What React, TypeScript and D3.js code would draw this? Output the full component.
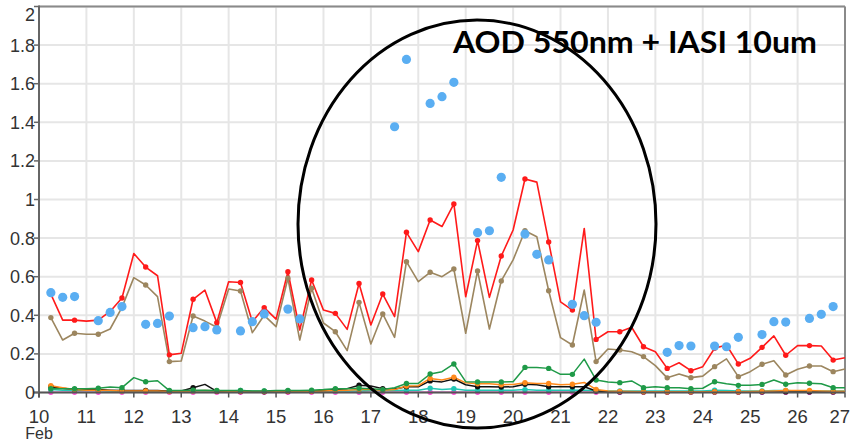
import React from "react";
import * as d3 from "d3";

const W = 851;
const H = 444;

const times = [
  10.25, 10.5, 10.75, 11.0, 11.25, 11.5, 11.75, 12.0, 12.25, 12.5, 12.75, 13.0,
  13.25, 13.5, 13.75, 14.0, 14.25, 14.5, 14.75, 15.0, 15.25, 15.5, 15.75, 16.0,
  16.25, 16.5, 16.75, 17.0, 17.25, 17.5, 17.75, 18.0, 18.25, 18.5, 18.75, 19.0,
  19.25, 19.5, 19.75, 20.0, 20.25, 20.5, 20.75, 21.0, 21.25, 21.5, 21.75, 22.0,
  22.25, 22.5, 22.75, 23.0, 23.25, 23.5, 23.75, 24.0, 24.25, 24.5, 24.75, 25.0,
  25.25, 25.5, 25.75, 26.0, 26.25, 26.5, 26.75, 27.0,
];

const totalAod = [
  0.51, 0.375, 0.375, 0.37, 0.375, 0.42, 0.49, 0.72, 0.65, 0.605, 0.195, 0.203,
  0.483, 0.53, 0.362, 0.574, 0.57, 0.367, 0.44, 0.38, 0.626, 0.324, 0.583, 0.427,
  0.41, 0.327, 0.565, 0.35, 0.51, 0.393, 0.83, 0.73, 0.894, 0.86, 0.977, 0.496,
  0.787, 0.493, 0.707, 0.842, 1.106, 1.09, 0.78, 0.47, 0.427, 0.85, 0.275, 0.315,
  0.315, 0.338, 0.237, 0.211, 0.125, 0.154, 0.113, 0.134, 0.229, 0.246, 0.148, 0.177,
  0.234, 0.293, 0.193, 0.243, 0.243, 0.241, 0.168, 0.18,
];

const dustAod = [
  0.388, 0.272, 0.307, 0.302, 0.302, 0.329, 0.441, 0.595, 0.557, 0.497, 0.16, 0.163,
  0.396, 0.37, 0.338, 0.536, 0.526, 0.31, 0.4, 0.341, 0.592, 0.272, 0.54, 0.36,
  0.315, 0.217, 0.467, 0.251, 0.407, 0.286, 0.678, 0.574, 0.623, 0.6, 0.64, 0.307,
  0.63, 0.329, 0.578, 0.687, 0.838, 0.807, 0.527, 0.284, 0.246, 0.531, 0.16, 0.225,
  0.22, 0.211, 0.186, 0.139, 0.076, 0.096, 0.077, 0.085, 0.134, 0.174, 0.082, 0.108,
  0.146, 0.165, 0.091, 0.12, 0.137, 0.137, 0.108, 0.122,
];

const greenAod = [
  0.02, 0.02, 0.02, 0.02, 0.022, 0.028, 0.025, 0.077, 0.056, 0.061, 0.01, 0.01,
  0.012, 0.012, 0.01, 0.01, 0.01, 0.008, 0.008, 0.01, 0.01, 0.01, 0.012, 0.015,
  0.02, 0.02, 0.022, 0.02, 0.015, 0.025, 0.047, 0.047, 0.096, 0.108, 0.148, 0.056,
  0.055, 0.055, 0.055, 0.056, 0.13, 0.13, 0.125, 0.094, 0.094, 0.173, 0.065, 0.055,
  0.051, 0.06, 0.025, 0.03, 0.025, 0.025, 0.02, 0.022, 0.056, 0.045, 0.037, 0.037,
  0.042, 0.065, 0.043, 0.05, 0.048, 0.045, 0.025, 0.025,
];

const orangeAod = [
  0.035, 0.025, 0.015, 0.012, 0.012, 0.01, 0.008, 0.008, 0.008, 0.008, 0.005, 0.005,
  0.008, 0.01, 0.008, 0.006, 0.006, 0.005, 0.005, 0.005, 0.006, 0.006, 0.006, 0.008,
  0.01, 0.012, 0.015, 0.015, 0.012, 0.015, 0.034, 0.035, 0.073, 0.065, 0.079, 0.05,
  0.045, 0.045, 0.04, 0.042, 0.051, 0.047, 0.047, 0.04, 0.043, 0.052, 0.016, 0.008,
  0.006, 0.005, 0.004, 0.004, 0.004, 0.004, 0.004, 0.004, 0.004, 0.004, 0.004, 0.005,
  0.006, 0.008, 0.01, 0.01, 0.01, 0.008, 0.006, 0.006,
];

const blackAod = [
  0.03, 0.022, 0.016, 0.015, 0.015, 0.012, 0.01, 0.01, 0.01, 0.01, 0.006, 0.008,
  0.025, 0.042, 0.006, 0.005, 0.005, 0.004, 0.004, 0.004, 0.005, 0.005, 0.006, 0.01,
  0.015, 0.02, 0.038, 0.034, 0.02, 0.018, 0.03, 0.03, 0.06, 0.055, 0.07, 0.04,
  0.03, 0.03, 0.028, 0.03, 0.043, 0.04, 0.03, 0.03, 0.03, 0.03, 0.008, 0.004,
  0.003, 0.003, 0.003, 0.003, 0.003, 0.003, 0.003, 0.003, 0.003, 0.003, 0.003, 0.003,
  0.003, 0.003, 0.003, 0.003, 0.003, 0.003, 0.003, 0.003,
];

const tealAod = [
  0.015, 0.012, 0.01, 0.01, 0.01, 0.008, 0.008, 0.008, 0.008, 0.008, 0.006, 0.006,
  0.008, 0.008, 0.008, 0.008, 0.01, 0.008, 0.008, 0.008, 0.008, 0.008, 0.008, 0.008,
  0.008, 0.008, 0.008, 0.01, 0.01, 0.01, 0.012, 0.012, 0.022, 0.015, 0.02, 0.012,
  0.012, 0.012, 0.012, 0.012, 0.015, 0.012, 0.012, 0.012, 0.012, 0.012, 0.01, 0.008,
  0.008, 0.008, 0.008, 0.008, 0.008, 0.008, 0.008, 0.008, 0.012, 0.01, 0.008, 0.008,
  0.008, 0.01, 0.01, 0.008, 0.008, 0.008, 0.008, 0.008,
];

const magentaAod = [
  0.001, 0.001, 0.001, 0.001, 0.001, 0.001, 0.001, 0.001, 0.001, 0.001, 0.001, 0.001,
  0.001, 0.001, 0.001, 0.001, 0.001, 0.001, 0.001, 0.001, 0.001, 0.001, 0.001, 0.001,
  0.001, 0.001, 0.001, 0.001, 0.001, 0.001, 0.001, 0.001, 0.001, 0.001, 0.001, 0.001,
  0.001, 0.001, 0.001, 0.001, 0.001, 0.001, 0.001, 0.001, 0.001, 0.001, 0.001, 0.001,
  0.001, 0.001, 0.001, 0.001, 0.001, 0.001, 0.001, 0.001, 0.001, 0.001, 0.001, 0.001,
  0.001, 0.001, 0.001, 0.001, 0.001, 0.001, 0.001, 0.001,
];

const obsTimes = [
  10.25, 10.5, 10.75, 11.25, 11.5, 11.75, 12.25, 12.5, 12.75, 13.25, 13.5, 13.75,
  14.25, 14.5, 14.75, 15.25, 15.5, 17.5, 17.75, 18.25, 18.5, 18.75, 19.25, 19.5,
  19.75, 20.25, 20.5, 20.75, 21.25, 21.5, 21.75, 23.25, 23.5, 23.75, 24.25, 24.5,
  24.75, 25.25, 25.5, 25.75, 26.25, 26.5, 26.75,
];
const obsValues = [
  0.517, 0.493, 0.497, 0.372, 0.415, 0.445, 0.353, 0.358, 0.396, 0.336, 0.341, 0.324,
  0.319, 0.367, 0.407, 0.432, 0.381, 1.377, 1.726, 1.498, 1.533, 1.607, 0.828, 0.838,
  1.115, 0.821, 0.716, 0.687, 0.457, 0.398, 0.364, 0.208, 0.243, 0.241, 0.241, 0.237,
  0.286, 0.3, 0.367, 0.365, 0.384, 0.405, 0.445,
];

const yTicks = [0, 0.2, 0.4, 0.6, 0.8, 1, 1.2, 1.4, 1.6, 1.8, 2];
const yTickLabels = ["0", "0.2", "0.4", "0.6", "0.8", "1", "1.2", "1.4", "1.6", "1.8", "2"];
const xTicks = [10, 11, 12, 13, 14, 15, 16, 17, 18, 19, 20, 21, 22, 23, 24, 25, 26, 27];
const monthLabel = "Feb";
const title = "AOD 550nm + IASI 10um";

const seriesList = [
  { values: magentaAod, color: "#ff4fd8", width: 1.5 },
  { values: tealAod, color: "#22c7b4", width: 1.5 },
  { values: blackAod, color: "#111111", width: 1.5 },
  { values: orangeAod, color: "#ff8a1c", width: 1.5 },
  { values: greenAod, color: "#1f9a48", width: 1.5 },
  { values: dustAod, color: "#9c865f", width: 1.6 },
  { values: totalAod, color: "#ff1a1a", width: 1.6 },
];

export default function App() {
  const x = d3.scaleLinear().domain([10, 27]).range([39, 845]);
  const y = d3.scaleLinear().domain([0, 2]).range([392.5, 6.5]);
  const line = d3
    .line<number>()
    .x((_, i) => x(times[i]))
    .y((d) => y(d));

  const font = "'Liberation Sans', Arial, sans-serif";

  return (
    <svg
      width={W}
      height={H}
      style={{ position: "absolute", left: 0, top: 0, background: "#fff" }}
    >
      <rect x={0} y={0} width={W} height={H} fill="#fff" />
      {/* grid */}
      {xTicks.map((t) => (
        <line key={"gx" + t} x1={x(t)} x2={x(t)} y1={y(2)} y2={y(0)} stroke="#e6e6e6" strokeWidth={2} />
      ))}
      {yTicks.map((v) => (
        <line key={"gy" + v} x1={x(10)} x2={x(27)} y1={y(v)} y2={y(v)} stroke="#e6e6e6" strokeWidth={2} />
      ))}
      {/* frame */}
      <line x1={x(10)} x2={x(27)} y1={y(2)} y2={y(2)} stroke="#8a8a8a" strokeWidth={2} />
      <line x1={x(27)} x2={x(27)} y1={y(2)} y2={y(0)} stroke="#8a8a8a" strokeWidth={2} />
      {/* series lines */}
      {seriesList.map((s, k) => (
        <path key={"l" + k} d={line(s.values) || ""} fill="none" stroke={s.color} strokeWidth={s.width} strokeLinejoin="round" />
      ))}
      {seriesList.map((s, k) => (
        <g key={"m" + k}>
          {s.values.map((v, i) =>
            i % 2 === 0 ? (
              <circle key={i} cx={x(times[i])} cy={y(v)} r={2.7} fill={s.color} />
            ) : null
          )}
        </g>
      ))}
      {/* observations */}
      {obsValues.map((v, i) => (
        <circle key={"o" + i} cx={x(obsTimes[i])} cy={y(v)} r={4.6} fill="#5aaef2" />
      ))}
      {/* axes */}
      <line x1={x(10)} x2={x(10)} y1={y(2) - 1} y2={y(0) + 5} stroke="#666" strokeWidth={2} />
      <line x1={x(10) - 5} x2={x(27)} y1={y(0)} y2={y(0)} stroke="#555" strokeWidth={2} />
      {yTicks.map((v) => (
        <line key={"ty" + v} x1={x(10) - 5} x2={x(10)} y1={y(v)} y2={y(v)} stroke="#666" strokeWidth={1.5} />
      ))}
      {xTicks.map((t) => (
        <line key={"tx" + t} x1={x(t)} x2={x(t)} y1={y(0)} y2={y(0) + 5} stroke="#555" strokeWidth={1.5} />
      ))}
      {yTicks.map((v, i) => (
        <text
          key={"yl" + v}
          x={35}
          y={v === 2 ? y(v) + 8 : y(v)}
          dy="0.36em"
          textAnchor="end"
          fontFamily={font}
          fontSize={18}
          fill="#333"
        >
          {yTickLabels[i]}
        </text>
      ))}
      {xTicks.map((t, i) => {
        const last = i === xTicks.length - 1;
        return (
          <text
            key={"xl" + t}
            x={last ? 850 : x(t)}
            y={423}
            textAnchor={last ? "end" : "middle"}
            fontFamily={font}
            fontSize={18.5}
            fill="#333"
          >
            {String(t)}
          </text>
        );
      })}
      <text x={x(10)} y={439} textAnchor="middle" fontFamily={font} fontSize={16} fill="#333">
        {monthLabel}
      </text>
      {/* annotation */}
      <ellipse cx={477} cy={224} rx={179} ry={204} fill="none" stroke="#000" strokeWidth={3} />
      <text
        x={453}
        y={53}
        fontFamily="Lato, 'Open Sans', sans-serif"
        fontWeight="bold"
        fontSize={31}
        fill="#000"
        textLength={364}
        lengthAdjust="spacingAndGlyphs"
      >
        {title}
      </text>
    </svg>
  );
}
